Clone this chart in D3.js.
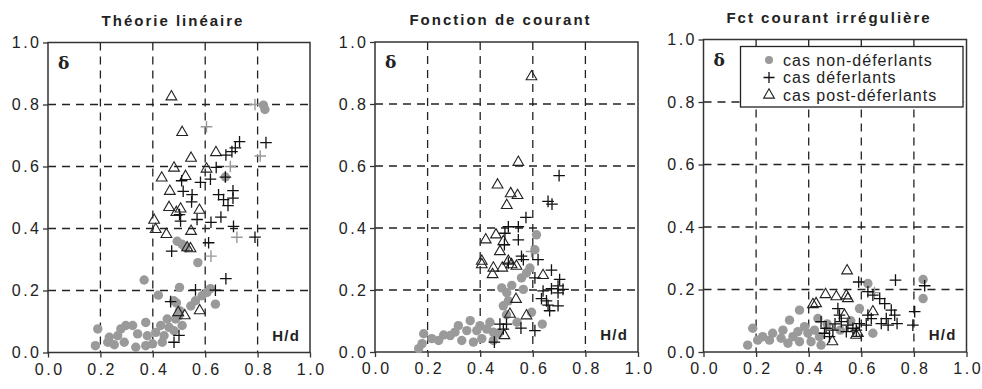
<!DOCTYPE html>
<html>
<head>
<meta charset="utf-8">
<script src="https://cdn.jsdelivr.net/npm/d3@7"></script>
<style>
  body { margin: 0; background: #fff; }
  svg { display: block; font-family: "Liberation Sans", Arial, sans-serif; }
</style>
</head>
<body>
<svg id="chart" width="982" height="389"></svg>
<script>
// --- data: [H/d, delta] ---
const titles = ['Théorie linéaire', 'Fonction de courant', 'Fct courant irrégulière'];
const ticks = [0, 0.2, 0.4, 0.6, 0.8, 1.0];
const legendLabels = ['cas non-déferlants', 'cas déferlants', 'cas post-déferlants'];

// Théorie linéaire
const linNonDef = [[0.822,0.798],[0.828,0.784],[0.677,0.566],[0.493,0.359],[0.512,0.349],[0.525,0.338],
  [0.572,0.29],[0.367,0.234],[0.502,0.21],[0.421,0.185],[0.62,0.206],[0.607,0.194],[0.588,0.183],
  [0.563,0.167],[0.639,0.156],[0.49,0.16],[0.502,0.135],[0.487,0.108],[0.455,0.108],[0.43,0.087],
  [0.411,0.065],[0.443,0.054],[0.462,0.081],[0.373,0.097],[0.379,0.054],[0.342,0.06],[0.323,0.087],
  [0.297,0.087],[0.278,0.076],[0.266,0.054],[0.234,0.049],[0.19,0.076],[0.181,0.022],[0.228,0.033],
  [0.253,0.025],[0.291,0.033],[0.335,0.017],[0.373,0.022],[0.436,0.033],[0.399,0.028],[0.481,0.07],
  [0.512,0.087],[0.5,0.119],[0.48,0.167],[0.545,0.15]];
const linDef = [[0.731,0.68],[0.832,0.677],[0.702,0.648],[0.679,0.637],[0.715,0.66],[0.642,0.597],
  [0.62,0.559],[0.677,0.566],[0.51,0.554],[0.582,0.549],[0.516,0.52],[0.55,0.509],[0.548,0.486],
  [0.651,0.509],[0.706,0.522],[0.706,0.498],[0.67,0.493],[0.687,0.474],[0.502,0.445],[0.506,0.424],
  [0.569,0.429],[0.622,0.42],[0.66,0.437],[0.708,0.407],[0.79,0.372],[0.613,0.354],[0.472,0.327],
  [0.679,0.238],[0.563,0.202],[0.639,0.201],[0.468,0.164],[0.5,0.055],[0.481,0.033]];
const linDefGris = [[0.605,0.728],[0.81,0.634],[0.696,0.6],[0.721,0.372],[0.622,0.311],[0.79,0.8]];
const linPost = [[0.471,0.825],[0.512,0.71],[0.546,0.627],[0.641,0.645],[0.481,0.595],[0.434,0.563],
  [0.525,0.568],[0.605,0.592],[0.465,0.52],[0.462,0.468],[0.506,0.463],[0.49,0.452],[0.578,0.459],
  [0.405,0.427],[0.411,0.397],[0.452,0.381],[0.546,0.391],[0.531,0.338],[0.544,0.335],[0.497,0.129],
  [0.522,0.119],[0.579,0.135]];

// Fonction de courant
const couNonDef = [[0.614,0.378],[0.608,0.33],[0.589,0.271],[0.576,0.255],[0.557,0.239],[0.564,0.202],
  [0.482,0.207],[0.501,0.191],[0.507,0.165],[0.488,0.149],[0.595,0.128],[0.636,0.09],[0.437,0.096],
  [0.399,0.085],[0.425,0.074],[0.45,0.064],[0.45,0.037],[0.406,0.043],[0.387,0.069],[0.362,0.101],
  [0.349,0.069],[0.317,0.085],[0.304,0.064],[0.286,0.053],[0.261,0.055],[0.242,0.037],[0.216,0.043],
  [0.185,0.059],[0.179,0.027],[0.166,0.011],[0.33,0.037],[0.374,0.032],[0.54,0.096],[0.52,0.215],
  [0.5,0.12],[0.47,0.06]];
const couDef = [[0.7,0.569],[0.658,0.486],[0.673,0.477],[0.574,0.434],[0.507,0.404],[0.545,0.404],
  [0.494,0.383],[0.545,0.362],[0.492,0.346],[0.557,0.309],[0.564,0.298],[0.62,0.298],[0.507,0.287],
  [0.671,0.264],[0.608,0.239],[0.702,0.234],[0.696,0.213],[0.671,0.204],[0.715,0.202],[0.639,0.197],
  [0.696,0.191],[0.633,0.172],[0.652,0.165],[0.658,0.151],[0.696,0.149],[0.664,0.133],[0.475,0.09],
  [0.5,0.09],[0.488,0.074],[0.555,0.077],[0.608,0.069],[0.454,0.032]];
const couDefGris = [[0.595,0.324]];
const couPost = [[0.595,0.888],[0.545,0.612],[0.466,0.539],[0.516,0.511],[0.542,0.505],[0.501,0.473],
  [0.421,0.362],[0.46,0.378],[0.488,0.356],[0.475,0.324],[0.406,0.293],[0.406,0.282],[0.45,0.271],
  [0.447,0.25],[0.484,0.271],[0.507,0.293],[0.519,0.282],[0.538,0.277],[0.639,0.247],[0.536,0.17],
  [0.513,0.122],[0.576,0.117],[0.492,0.053]];

// Fct courant irrégulière
const irrNonDef = [[0.835,0.232],[0.835,0.171],[0.625,0.219],[0.593,0.139],[0.365,0.134],[0.327,0.102],
  [0.302,0.07],[0.263,0.06],[0.225,0.049],[0.187,0.076],[0.168,0.022],[0.251,0.038],[0.295,0.044],
  [0.34,0.049],[0.359,0.065],[0.384,0.081],[0.397,0.06],[0.422,0.07],[0.441,0.049],[0.447,0.022],
  [0.409,0.033],[0.365,0.033],[0.321,0.028],[0.206,0.038],[0.644,0.06],[0.435,0.107],[0.52,0.07],
  [0.56,0.1],[0.47,0.09]];
const irrDef = [[0.59,0.224],[0.73,0.23],[0.841,0.212],[0.625,0.193],[0.644,0.182],[0.67,0.171],
  [0.689,0.155],[0.511,0.139],[0.517,0.118],[0.714,0.134],[0.727,0.118],[0.695,0.107],[0.676,0.091],
  [0.702,0.086],[0.736,0.091],[0.803,0.129],[0.796,0.086],[0.447,0.097],[0.466,0.076],[0.46,0.06],
  [0.492,0.07],[0.524,0.097],[0.549,0.086],[0.568,0.076],[0.593,0.091],[0.619,0.086],[0.638,0.107],
  [0.543,0.065],[0.479,0.049],[0.581,0.07],[0.625,0.118],[0.5,0.09]];
const irrDefGris = [[0.65,0.19]];
const irrPost = [[0.546,0.26],[0.416,0.152],[0.428,0.155],[0.464,0.184],[0.505,0.177],[0.543,0.18],
  [0.549,0.171],[0.49,0.033],[0.58,0.054],[0.644,0.129],[0.536,0.118],[0.587,0.06]];

// --- layout ---
const panels = [
  {title: titles[0], x0: 48, x1: 310, top: 42.5, bottom: 352.5, nd: linNonDef, d: linDef, dg: linDefGris, pd: linPost},
  {title: titles[1], x0: 375, x1: 638, top: 42, bottom: 352, nd: couNonDef, d: couDef, dg: couDefGris, pd: couPost},
  {title: titles[2], x0: 703.5, x1: 966.5, top: 39.5, bottom: 352, nd: irrNonDef, d: irrDef, dg: irrDefGris, pd: irrPost, legend: true}
];

const svg = d3.select('#chart');
const tri = d3.symbol().type(d3.symbolTriangle).size(50);

function plus(sel, s) {
  sel.append('path').attr('d', 'M' + (-s) + ',0H' + s + 'M0,' + (-s) + 'V' + s);
}

panels.forEach(function (p) {
  var xs = d3.scaleLinear().domain([0, 1]).range([p.x0, p.x1]);
  var ys = d3.scaleLinear().domain([0, 1]).range([p.bottom, p.top]);
  var g = svg.append('g');

  g.append('text')
    .attr('x', (p.x0 + p.x1) / 2 - 6).attr('y', p.top - 17)
    .attr('text-anchor', 'middle')
    .attr('font-size', 15).attr('font-weight', 'bold')
    .attr('letter-spacing', 2).attr('fill', '#222')
    .text(p.title);

  // gridlines
  var inner = ticks.slice(1, 5);
  g.selectAll('.vg').data(inner).enter().append('line')
    .attr('x1', xs).attr('x2', xs).attr('y1', p.top).attr('y2', p.bottom)
    .attr('stroke', '#222').attr('stroke-width', 1.3).attr('stroke-dasharray', '8,6');
  g.selectAll('.hg').data(inner).enter().append('line')
    .attr('y1', ys).attr('y2', ys).attr('x1', p.x0).attr('x2', p.x1)
    .attr('stroke', '#222').attr('stroke-width', 1.3).attr('stroke-dasharray', '8,6');

  // frame
  g.append('rect')
    .attr('x', p.x0).attr('y', p.top).attr('width', p.x1 - p.x0).attr('height', p.bottom - p.top)
    .attr('fill', 'none').attr('stroke', '#333').attr('stroke-width', 1.5);

  // axes
  var ax = g.append('g').attr('transform', 'translate(0,' + p.bottom + ')')
    .call(d3.axisBottom(xs).tickValues(ticks).tickFormat(d3.format('.1f')).tickSize(5).tickPadding(6));
  var ay = g.append('g').attr('transform', 'translate(' + p.x0 + ',0)')
    .call(d3.axisLeft(ys).tickValues(ticks).tickFormat(d3.format('.1f')).tickSize(5).tickPadding(4));
  [ax, ay].forEach(function (a) {
    a.select('.domain').remove();
    a.selectAll('line').attr('stroke', '#333').attr('stroke-width', 1.3);
    a.selectAll('text').attr('font-size', 16).attr('fill', '#222')
      .attr('font-family', '"Liberation Sans", Arial, sans-serif').attr('letter-spacing', 2.5);
  });
  ay.selectAll('text').attr('dx', 2.5);
  ax.selectAll('text').attr('dx', 1.2);

  // points
  g.selectAll('.nd').data(p.nd).enter().append('circle')
    .attr('cx', function (d) { return xs(d[0]); })
    .attr('cy', function (d) { return ys(d[1]); })
    .attr('r', 4.7).attr('fill', '#9a9a9a');

  g.selectAll('.dg').data(p.dg).enter().append('g')
    .attr('transform', function (d) { return 'translate(' + xs(d[0]) + ',' + ys(d[1]) + ')'; })
    .attr('stroke', '#999').attr('stroke-width', 1.4)
    .each(function () { plus(d3.select(this), 5.8); });

  g.selectAll('.pd').data(p.pd).enter().append('path')
    .attr('transform', function (d) { return 'translate(' + xs(d[0]) + ',' + ys(d[1]) + ')'; })
    .attr('d', tri).attr('fill', 'none').attr('stroke', '#222').attr('stroke-width', 1.1);

  g.selectAll('.d').data(p.d).enter().append('g')
    .attr('transform', function (d) { return 'translate(' + xs(d[0]) + ',' + ys(d[1]) + ')'; })
    .attr('stroke', '#111').attr('stroke-width', 1.3)
    .each(function () { plus(d3.select(this), 5.8); });

  // corner labels
  g.append('text').attr('x', p.x0 + 10).attr('y', p.top + 26)
    .attr('font-family', '"DejaVu Serif", "Liberation Serif", serif')
    .attr('font-size', 17).attr('font-weight', 'bold').attr('fill', '#222').text('δ');
  g.append('text').attr('x', p.x1 - 10).attr('y', p.bottom - 12)
    .attr('text-anchor', 'end').attr('font-size', 15).attr('font-weight', 'bold')
    .attr('letter-spacing', 1.2).attr('fill', '#222').text('H/d');

  if (p.legend) {
    var lg = g.append('g');
    lg.append('rect').attr('x', 740.5).attr('y', 46.5).attr('width', 222.5).attr('height', 60.5)
      .attr('fill', '#fff').attr('stroke', '#222').attr('stroke-width', 1.3);
    var rows = lg.selectAll('.row').data(legendLabels).enter().append('g')
      .attr('transform', function (d, i) { return 'translate(769,' + (60 + i * 17.5) + ')'; });
    rows.append('text').attr('x', 14).attr('y', 5.5)
      .attr('font-size', 16).attr('letter-spacing', 1).attr('fill', '#222')
      .text(function (d) { return d; });
    rows.each(function (d, i) {
      var r = d3.select(this);
      if (i === 0) r.append('circle').attr('r', 4).attr('fill', '#9a9a9a');
      else if (i === 1) r.append('g').attr('stroke', '#111').attr('stroke-width', 1.3).call(plus, 5.5);
      else r.append('path').attr('d', tri).attr('fill', 'none').attr('stroke', '#222').attr('stroke-width', 1.1);
    });
  }
});
</script>
</body>
</html>
